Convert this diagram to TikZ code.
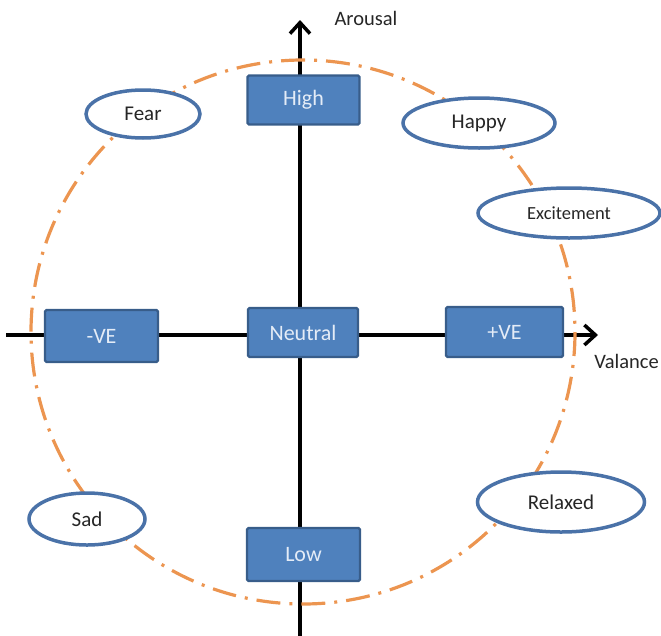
\documentclass[tikz,border=0pt]{standalone}
\usepackage{fontspec}
\setmainfont{Carlito}
\usetikzlibrary{arrows.meta,shapes.geometric}
\definecolor{boxfill}{HTML}{4F81BD}
\definecolor{boxline}{HTML}{385D8A}
\definecolor{ellline}{HTML}{4A72A8}
\definecolor{ring}{HTML}{EC9550}
\definecolor{boxtext}{HTML}{E4ECF7}
\definecolor{labtext}{HTML}{262626}
\begin{document}
\begin{tikzpicture}[x=1pt,y=-1pt,
  stepbox/.style={draw=boxline,fill=boxfill,line width=2.2pt,rounded corners=1.5pt,
    text=boxtext,font=\fontsize{22}{26}\selectfont,inner sep=0pt},
  emo/.style={draw=ellline,fill=white,ellipse,line width=3.5pt,text=labtext,
    font=\fontsize{21}{25}\selectfont,inner sep=0pt},
  axis/.style={line width=3.5pt,-{Straight Barb[length=11pt,width=20pt,line width=3.5pt]}},
  lab/.style={text=labtext,font=\fontsize{20.5}{24}\selectfont}]
\useasboundingbox (0,0) rectangle (661,635);
% axes
\coordinate (vbot) at (300,640);
\coordinate (vtop) at (300,20);
\coordinate (hl) at (6,335);
\coordinate (hr) at (598,335);
\draw[axis] (vbot) -- (vtop);
\draw[axis] (hl) -- (hr);
% ring
\draw[ring,line width=3.2pt,dash pattern=on 24pt off 9pt on 3pt off 9pt] (303,332) circle[radius=272];
% boxes
\node[stepbox,minimum width=112pt,minimum height=49pt] (high) at (303.5,100) {High};
\node[stepbox,minimum width=110pt,minimum height=49pt] (neutral) at (303,332.5) {Neutral};
\node[stepbox,minimum width=113pt,minimum height=52pt] (neg) at (101.5,336) {-VE};
\node[stepbox,minimum width=117pt,minimum height=50pt] (pos) at (504.5,332) {+VE};
\node[stepbox,minimum width=113pt,minimum height=53pt] (low) at (303.5,554.5) {Low};
% emotions
\node[emo,minimum width=114pt,minimum height=48pt] (fear) at (143,114) {Fear};
\node[emo,minimum width=152pt,minimum height=50pt] (happy) at (479,123) {Happy};
\node[emo,minimum width=182pt,minimum height=50pt,font=\fontsize{18.5}{22}\selectfont] (exc) at (569,213) {Excitement};
\node[emo,minimum width=116pt,minimum height=52pt] (sad) at (87,519) {Sad};
\node[emo,minimum width=167pt,minimum height=60pt] (rel) at (561,502) {Relaxed};
% labels
\node[lab,anchor=center] (arousal) at (366,18) {Arousal};
\node[lab,anchor=east,inner sep=0pt] (valance) at (659,361) {Valance};
\end{tikzpicture}
\end{document}
